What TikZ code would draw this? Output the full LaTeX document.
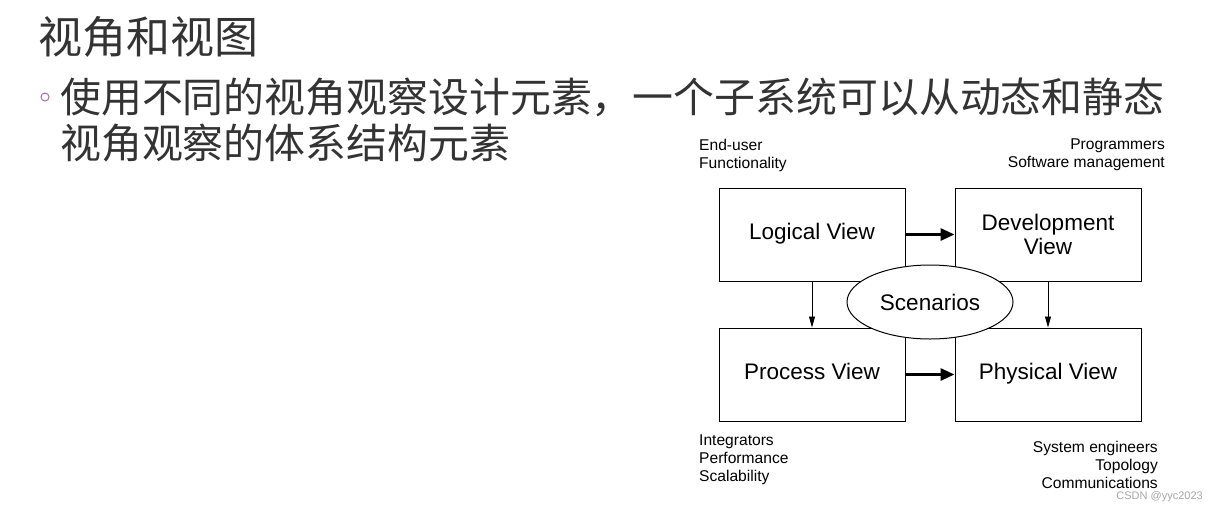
\documentclass[tikz,border=0pt]{standalone}
\usepackage{fontspec}
\setmainfont{Liberation Sans}
\newfontfamily\cjk{Noto Sans CJK SC}
\usetikzlibrary{shapes.geometric,arrows.meta}
\begin{document}
\begin{tikzpicture}[x=1pt,y=-1pt,
  viewbox/.style={draw,line width=1pt,minimum width=186pt,minimum height=93pt,font=\fontsize{22.5}{24}\selectfont,align=center},
  note/.style={font=\fontsize{15.6}{18}\selectfont,inner sep=0pt},
  thick arrow/.style={line width=3pt,-{Triangle[length=14pt,width=12pt]}},
  thin arrow/.style={line width=0.8pt,-{Triangle[length=11pt,width=6pt]}}]
\useasboundingbox (0,0) rectangle (1217,509);
\node[anchor=west,inner sep=0pt,font=\cjk\fontsize{44}{44}\selectfont,text=black!80] (title) at (38,37) {视角和视图};
\node[draw=violet!60,line width=1pt,circle,inner sep=0pt,minimum size=8pt] (bul) at (45,97) {};
\node[anchor=west,inner sep=0pt,font=\cjk\fontsize{40.9}{46}\selectfont,text=black!80] (l1) at (60,97) {使用不同的视角观察设计元素，一个子系统可以从动态和静态};
\node[anchor=west,inner sep=0pt,font=\cjk\fontsize{40.9}{46}\selectfont,text=black!80] (l2) at (60,143) {视角观察的体系结构元素};
\node[viewbox] (log) at (812,234.5) {\strut Logical View};
\node[viewbox] (dev) at (1048,234.5) {Development\\View};
\node[viewbox] (pro) at (812,374.5) {\strut Process View};
\node[viewbox] (phy) at (1048,374.5) {\strut Physical View};
\draw[thick arrow] (log.east) -- (dev.west);
\draw[thick arrow] (pro.east) -- (phy.west);
\draw[thin arrow] (log.south) -- (pro.north);
\draw[thin arrow] (dev.south) -- (phy.north);
\node[draw,fill=white,line width=1pt,ellipse,minimum width=166pt,minimum height=74pt,font=\fontsize{22.5}{22}\selectfont] (sc) at (930,302) {Scenarios};
\node[note,anchor=west,align=left] (n1) at (699,155) {End-user\\Functionality};
\node[note,anchor=east,align=right] (n2) at (1165,155) {Programmers\\Software management};
\node[note,anchor=west,align=left] (n3) at (699,460) {Integrators\\Performance\\Scalability};
\node[note,anchor=east,align=right] (n4) at (1158,465) {System engineers\\Topology\\Communications};
\node[anchor=east,inner sep=0pt,font=\fontsize{11}{12}\selectfont,text=black!35] (wm) at (1203,497) {CSDN @yyc2023};
\end{tikzpicture}
\end{document}
